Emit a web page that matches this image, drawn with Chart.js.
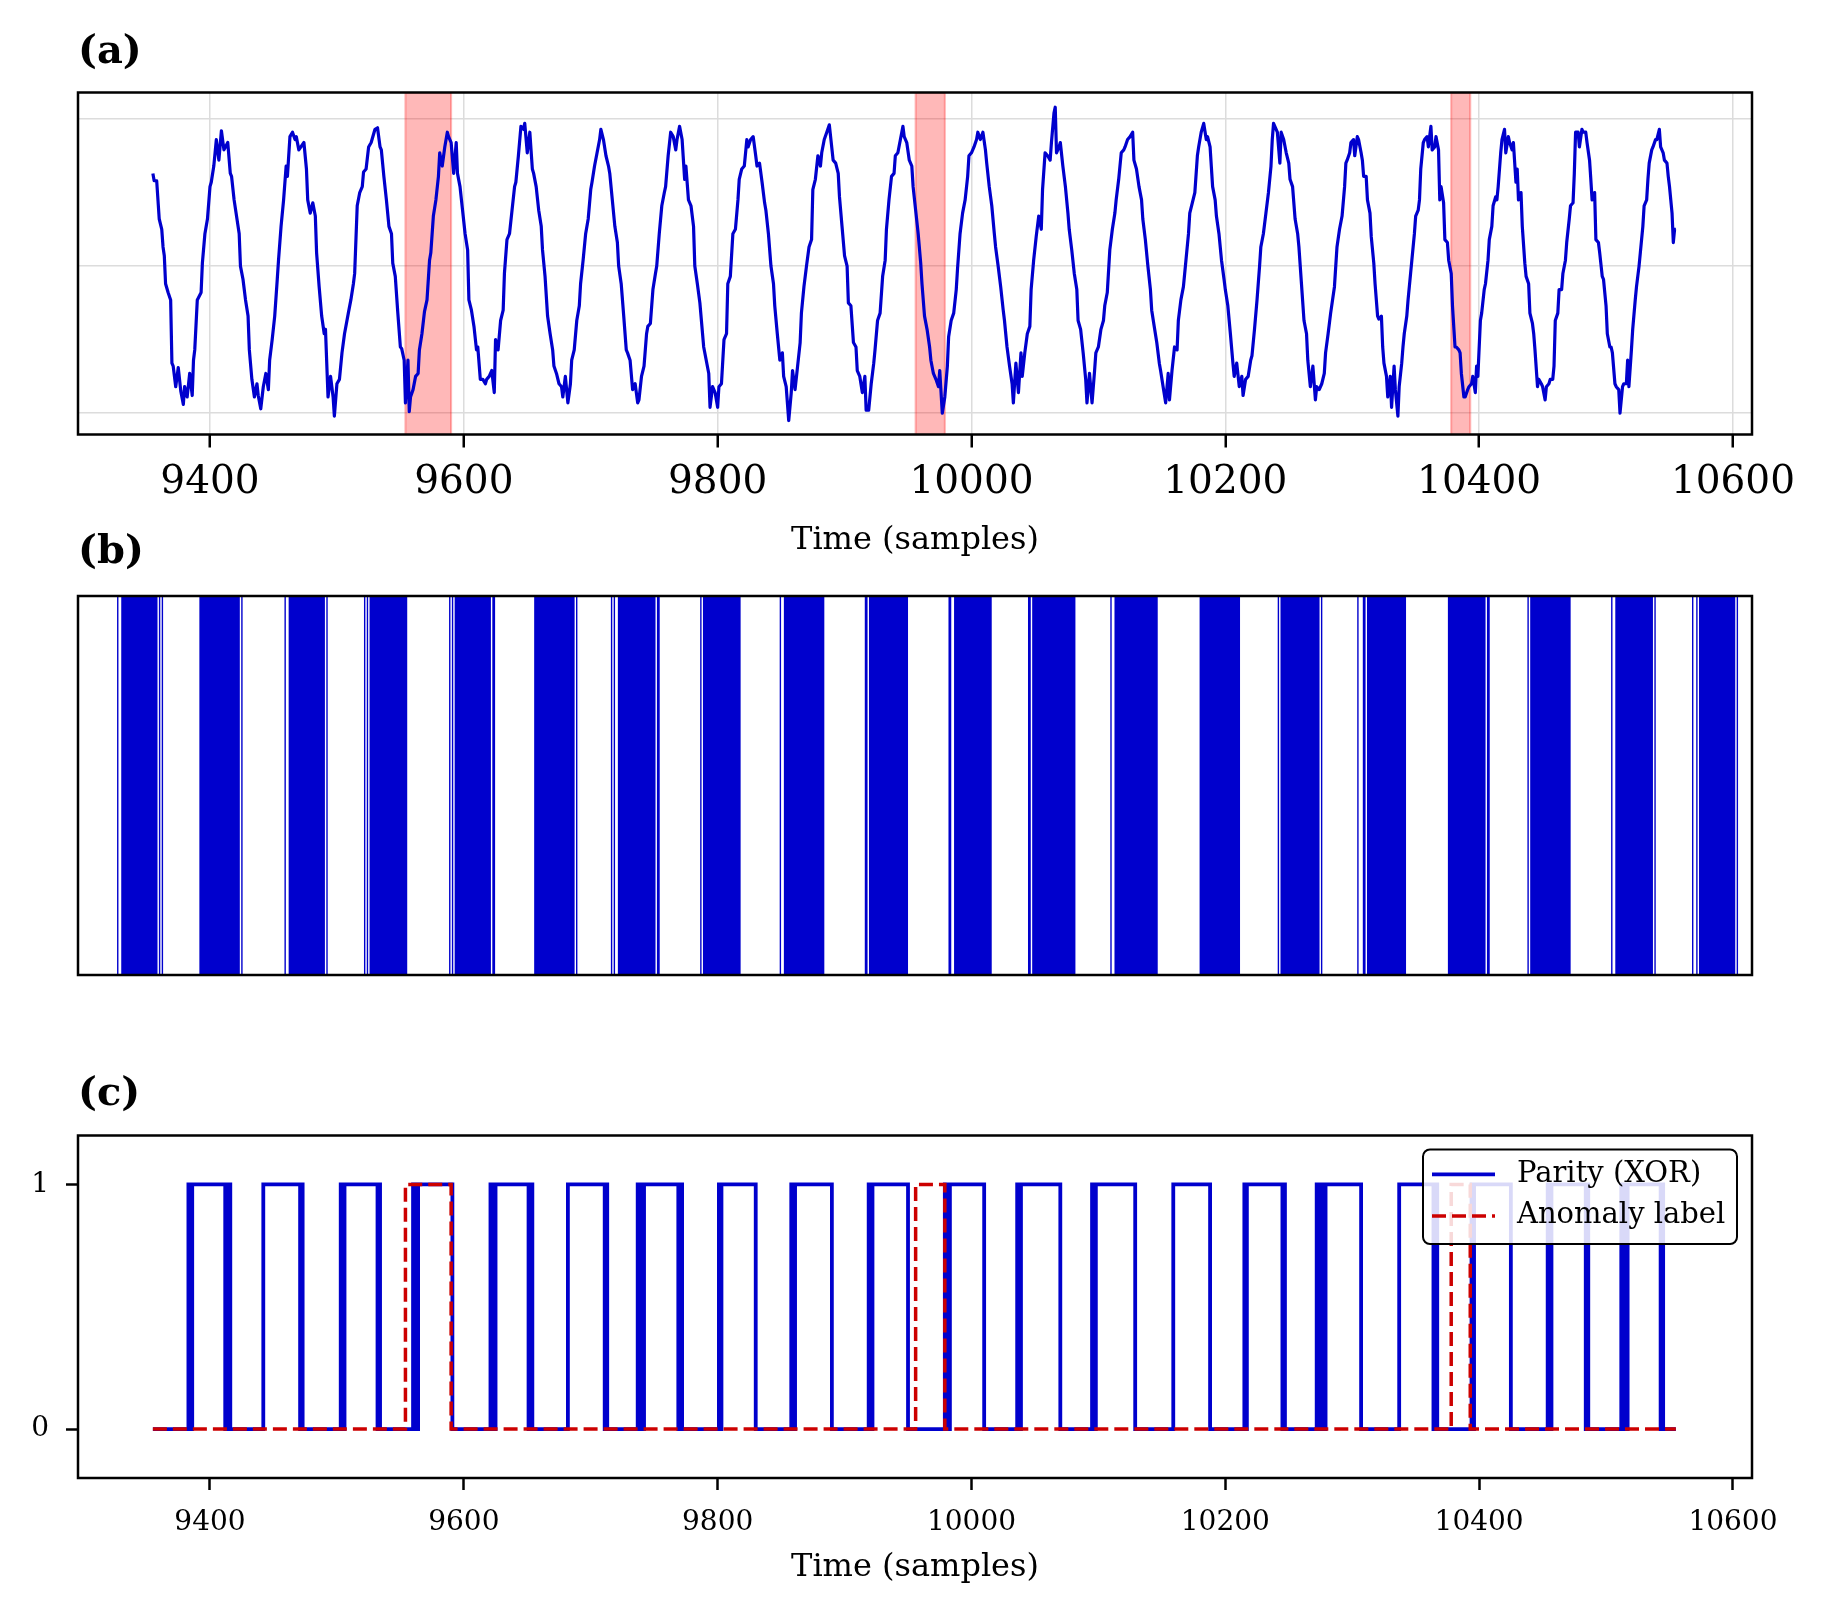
<!DOCTYPE html>
<html><head><meta charset="utf-8">
<script src="https://cdn.jsdelivr.net/npm/chart.js@4.4.0/dist/chart.umd.min.js"></script>
<style>
html,body{margin:0;padding:0;background:#fff;}
#wrap{position:relative;width:1828px;height:1615px;overflow:hidden;background:#fff;}
.panel{position:absolute;left:0;width:1828px;}
</style></head><body>
<div id="wrap">
<div class="panel" style="top:0;height:580px"><canvas id="ca"></canvas></div>
<div class="panel" style="top:505px;height:480px"><canvas id="cb"></canvas></div>
<div class="panel" style="top:1045px;height:570px"><canvas id="cc"></canvas></div>
</div>
<script>
// ---------------- data ----------------
const T_START = 9355, T_END = 10555;
const xTicks = [9400, 9600, 9800, 10000, 10200, 10400, 10600];
const gridLevelsA = [-1, 0, 1];
const yTicksC = [0, 1];
const panelTitles = ['(a)', '(b)', '(c)'];
const xLabel = 'Time (samples)';
const seriesLabels = ['Parity (XOR)', 'Anomaly label'];

// [sample, value]
const signalSamples = [
[9355,.63],[9356,.58],[9358,.58],[9360,.32],[9362,.25],[9363,.13],[9364,.07],[9365,-.12],[9367,-.18],[9369,-.23],[9370,-.66],[9371,-.68],[9373,-.82],[9375,-.69],[9377,-.85],[9379,-.94],[9380,-.82],[9382,-.89],[9384,-.73],[9386,-.88],[9387,-.64],[9388,-.57],[9390,-.23],[9393,-.18],[9394,.02],[9396,.22],[9398,.32],[9400,.54],[9401,.57],[9403,.68],[9405,.86],[9407,.72],[9409,.92],[9411,.79],[9414,.84],[9416,.63],[9417,.61],[9419,.45],[9423,.22],[9424,0],[9426,-.09],[9428,-.23],[9430,-.34],[9431,-.57],[9433,-.77],[9435,-.89],[9437,-.80],[9438,-.88],[9440,-.97],[9442,-.82],[9444,-.73],[9446,-.84],[9447,-.64],[9449,-.50],[9451,-.34],[9453,-.09],[9454,.04],[9456,.27],[9458,.45],[9460,.68],[9461,.61],[9463,.88],[9465,.91],[9467,.86],[9468,.88],[9470,.79],[9474,.84],[9476,.66],[9477,.45],[9479,.36],[9481,.43],[9483,.34],[9484,.09],[9486,-.14],[9488,-.34],[9490,-.46],[9491,-.43],[9493,-.89],[9495,-.75],[9497,-.89],[9498,-1.02],[9500,-.80],[9502,-.77],[9504,-.59],[9506,-.46],[9509,-.32],[9511,-.23],[9513,-.12],[9514,-.05],[9516,.41],[9518,.50],[9520,.54],[9521,.64],[9523,.66],[9525,.81],[9527,.84],[9530,.93],[9532,.94],[9534,.81],[9535,.79],[9537,.61],[9539,.45],[9541,.27],[9543,.22],[9544,.02],[9546,-.07],[9548,-.32],[9550,-.55],[9551,-.56],[9553,-.64],[9554,-.93],[9556,-.64],[9557,-.99],[9558,-.89],[9560,-.84],[9562,-.75],[9564,-.73],[9565,-.57],[9567,-.46],[9569,-.31],[9571,-.23],[9573,.04],[9574,.09],[9576,.34],[9578,.45],[9580,.61],[9581,.77],[9583,.68],[9585,.81],[9587,.91],[9588,.88],[9590,.84],[9592,.63],[9594,.84],[9595,.63],[9597,.54],[9599,.38],[9601,.22],[9603,.11],[9604,-.23],[9606,-.30],[9608,-.41],[9610,-.57],[9611,-.55],[9613,-.77],[9615,-.77],[9617,-.80],[9618,-.77],[9620,-.75],[9622,-.71],[9624,-.86],[9625,-.50],[9627,-.57],[9629,-.37],[9631,-.30],[9632,-.05],[9634,.18],[9636,.22],[9638,.38],[9640,.54],[9641,.57],[9643,.75],[9645,.95],[9647,.93],[9648,.97],[9650,.77],[9652,.91],[9654,.66],[9655,.63],[9657,.54],[9659,.38],[9661,.27],[9662,.11],[9664,-.07],[9666,-.34],[9668,-.46],[9670,-.57],[9671,-.68],[9673,-.73],[9675,-.80],[9677,-.82],[9678,-.89],[9680,-.75],[9682,-.93],[9684,-.80],[9685,-.64],[9687,-.57],[9689,-.37],[9691,-.27],[9692,-.12],[9694,.04],[9696,.22],[9698,.32],[9700,.52],[9701,.57],[9703,.68],[9705,.77],[9707,.86],[9708,.93],[9710,.86],[9712,.75],[9714,.68],[9715,.63],[9717,.45],[9719,.27],[9721,.16],[9722,0],[9724,-.12],[9726,-.34],[9728,-.57],[9729,-.59],[9731,-.64],[9733,-.84],[9735,-.80],[9737,-.93],[9738,-.91],[9740,-.75],[9742,-.68],[9744,-.46],[9745,-.41],[9747,-.39],[9749,-.16],[9751,-.05],[9752,0],[9754,.22],[9756,.41],[9758,.50],[9759,.54],[9761,.75],[9763,.91],[9765,.88],[9767,.79],[9768,.86],[9770,.95],[9772,.86],[9774,.59],[9775,.68],[9777,.45],[9779,.41],[9781,.27],[9782,0],[9784,-.12],
[9786,-.25],[9789,-.55],[9793,-.73],[9794,-.96],[9796,-.82],[9798,-.86],[9800,-.96],[9801,-.82],[9803,-.80],[9805,-.50],[9807,-.46],[9808,-.12],[9810,-.07],[9812,.22],[9814,.25],[9816,.45],[9817,.59],[9819,.66],[9821,.68],[9823,.86],[9824,.81],[9826,.86],[9828,.88],[9830,.75],[9831,.68],[9833,.70],[9835,.57],[9837,.43],[9838,.38],[9840,.22],[9842,0],[9844,-.12],[9845,-.27],[9847,-.46],[9849,-.64],[9851,-.59],[9852,-.75],[9854,-.82],[9856,-1.05],[9858,-.86],[9859,-.71],[9861,-.84],[9863,-.68],[9865,-.52],[9866,-.32],[9868,-.14],[9870,0],[9872,.13],[9874,.18],[9875,.52],[9877,.59],[9879,.75],[9881,.68],[9882,.77],[9884,.86],[9886,.91],[9888,.96],[9889,.88],[9891,.72],[9893,.70],[9895,.63],[9896,.47],[9898,.27],[9900,.07],[9902,0],[9903,-.25],[9905,-.27],[9907,-.52],[9909,-.55],[9910,-.71],[9912,-.75],[9914,-.86],[9916,-.75],[9917,-.98],[9919,-.98],[9921,-.80],[9923,-.66],[9924,-.57],[9926,-.37],[9928,-.32],[9930,-.07],[9932,.04],[9933,.25],[9935,.45],[9937,.61],[9939,.63],[9940,.75],[9942,.77],[9944,.86],[9946,.95],[9947,.88],[9949,.84],[9951,.72],[9953,.68],[9954,.54],[9956,.38],[9958,.22],[9960,.02],[9961,-.12],[9963,-.34],[9965,-.43],[9967,-.55],[9968,-.64],[9970,-.73],[9972,-.77],[9974,-.82],[9975,-.71],[9977,-1.00],[9979,-.89],[9981,-.68],[9982,-.48],[9984,-.37],[9986,-.32],[9988,-.16],[9989,-.02],[9991,.22],[9993,.36],[9995,.45],[9997,.61],[9998,.75],[10000,.77],[10002,.81],[10004,.86],[10005,.91],[10007,.86],[10009,.91],[10011,.79],[10012,.70],[10014,.54],[10016,.41],[10018,.22],[10019,.13],[10021,0],[10023,-.14],[10025,-.30],[10026,-.37],[10028,-.55],[10030,-.68],[10032,-.80],[10033,-.93],[10035,-.66],[10037,-.86],[10039,-.59],[10040,-.75],[10042,-.59],[10044,-.46],[10046,-.41],[10047,-.16],[10049,.04],[10051,.20],[10053,.34],[10055,.25],[10056,.52],[10058,.77],[10060,.75],[10062,.72],[10063,.84],[10065,1.04],[10066,1.08],[10067,.77],[10069,.81],[10070,.84],[10072,.68],[10074,.54],[10076,.36],[10077,.25],[10079,.11],[10081,-.05],[10083,-.16],[10084,-.37],[10086,-.43],[10088,-.59],[10090,-.77],[10091,-.93],[10093,-.73],[10095,-.93],[10097,-.71],[10098,-.59],[10100,-.55],[10102,-.43],[10104,-.37],[10105,-.27],[10107,-.18],[10109,.11],[10111,.25],[10113,.36],[10114,.45],[10116,.59],[10118,.77],[10120,.79],[10121,.81],[10123,.86],[10125,.88],[10127,.91],[10128,.72],[10130,.66],[10132,.54],[10134,.45],[10135,.32],[10137,.18],[10139,0],[10141,-.16],[10142,-.30],[10144,-.41],[10146,-.52],[10148,-.66],[10149,-.71],[10151,-.82],[10153,-.93],[10155,-.73],[10156,-.91],[10158,-.71],[10160,-.55],[10162,-.57],[10163,-.37],[10165,-.23],[10167,-.14],[10169,.04],[10171,.22],[10172,.36],[10174,.43],[10176,.50],[10178,.75],[10179,.81],[10181,.91],[10183,.97],[10185,.86],[10186,.88],[10188,.81],[10190,.54],[10192,.45],[10193,.34],[10195,.22],[10197,.04],[10199,-.09],[10200,-.16],[10202,-.27],[10204,-.46],[10206,-.66],[10207,-.75],[10209,-.66],[10211,-.82],[10213,-.75],[10214,-.88],[10216,-.77],[10218,-.75],[10220,-.64],[10221,-.61],[10223,-.43],[10225,-.23],[10227,0],[10228,.13],[10230,.22],[10232,.36],[10234,.50],[10236,.68],[10237,.86],[10238,.97],[10241,.91],[10243,.70],[10244,.91],[10246,.86],[10248,.77],[10250,.70],[10251,.59],[10253,.54],[10255,.32],[10257,.22],[10258,.13],[10260,-.12],[10262,-.37],[10264,-.46],[10265,-.64],[10267,-.82],[10269,-.68],[10271,-.91],[10272,-.82],[10274,-.84],[10276,-.80],[10278,-.73],[10279,-.59],[10281,-.46],[10283,-.32],[10286,-.14],[10288,.13],[10290,.25],[10292,.34],[10294,.54],[10295,.70],
[10296,.72],[10298,.77],[10299,.84],[10301,.86],[10302,.75],[10304,.88],[10305,.86],[10307,.77],[10308,.72],[10309,.61],[10311,.61],[10312,.45],[10314,.36],[10315,.20],[10317,.02],[10318,-.12],[10320,-.34],[10321,-.36],[10323,-.34],[10324,-.55],[10325,-.66],[10327,-.75],[10328,-.89],[10330,-.75],[10331,-.96],[10333,-.68],[10334,-.84],[10336,-1.02],[10337,-.82],[10339,-.66],[10340,-.55],[10341,-.46],[10343,-.34],[10344,-.23],[10346,-.05],[10347,.04],[10349,.22],[10350,.34],[10352,.38],[10353,.45],[10354,.66],[10356,.84],[10357,.86],[10359,.88],[10360,.81],[10362,.95],[10363,.79],[10365,.81],[10366,.88],[10368,.79],[10369,.45],[10370,.54],[10372,.43],[10373,.18],[10375,.16],[10376,.04],[10378,-.05],[10379,-.27],[10381,-.55],[10382,-.55],[10384,-.57],[10385,-.59],[10386,-.73],[10388,-.89],[10389,-.89],[10391,-.84],[10392,-.82],[10394,-.80],[10395,-.75],[10397,-.86],[10398,-.68],[10399,-.75],[10401,-.37],[10402,-.32],[10404,-.16],[10405,-.12],[10407,.04],[10408,.18],[10410,.27],[10411,.41],[10413,.47],[10414,.45],[10415,.54],[10417,.77],[10418,.86],[10420,.93],[10421,.77],[10423,.88],[10424,.84],[10426,.79],[10427,.84],[10429,.57],[10430,.66],[10431,.45],[10433,.50],[10434,.27],[10436,.02],[10437,-.07],[10439,-.12],[10440,-.32],[10442,-.39],[10443,-.46],[10444,-.57],[10446,-.82],[10447,-.77],[10449,-.80],[10450,-.82],[10452,-.91],[10453,-.82],[10455,-.80],[10456,-.77],[10458,-.77],[10459,-.68],[10460,-.37],[10462,-.32],[10463,-.16],[10465,-.16],[10466,-.05],[10468,.04],[10469,.16],[10471,.32],[10472,.41],[10474,.43],[10475,.63],[10476,.91],[10478,.91],[10479,.81],[10481,.93],[10482,.91],[10484,.91],[10485,.84],[10487,.72],[10488,.59],[10489,.45],[10491,.50],[10492,.18],[10494,.16],[10495,.09],[10497,-.07],[10498,-.09],[10500,-.27],[10501,-.46],[10503,-.55],[10504,-.55],[10505,-.59],[10507,-.80],[10508,-.82],[10510,-.84],[10511,-1.00],[10513,-.82],[10514,-.80],[10516,-.80],[10517,-.64],[10518,-.82],[10520,-.57],[10521,-.43],[10523,-.23],[10524,-.14],[10526,0],[10527,.09],[10529,.27],[10530,.41],[10532,.45],[10533,.59],[10534,.70],[10536,.79],[10537,.81],[10539,.86],[10540,.86],[10542,.93],[10543,.81],[10545,.77],[10546,.72],[10548,.70],[10549,.61],[10550,.54],[10552,.36],[10553,.16],[10554,.25],[10555,.25]
];

// parity (XOR) = 1 on [start, end)
const parityStart = [9383,9386,9413,9415,9442,9472,9503,9506,9533,9560,9562,9564,9621,9623,9625,9652,9682,9712,9737,9739,9742,9770,9801,9803,9858,9861,9919,9922,9979,9983,10036,10039,10095,10098,10159,10215,10217,10246,10272,10276,10279,10337,10365,10394,10396,10454,10457,10485,10512,10515,10517,10544];
const parityEnd   = [9384,9412,9414,9416,9471,9473,9504,9532,9534,9561,9563,9591,9622,9624,9651,9654,9711,9713,9738,9740,9769,9772,9802,9830,9859,9890,9921,9950,9981,10010,10038,10070,10096,10129,10188,10216,10245,10247,10273,10278,10307,10364,10367,10395,10425,10455,10484,10486,10513,10516,10543,10545];

// anomaly label = 1 on [start, end)
const anomalyStart = [9554, 9956, 10378];
const anomalyEnd   = [9590, 9979, 10393];

// ---------------- style ----------------
const FONT = "'DejaVu Serif', serif";
const BLUE = '#0000CD';
const RED = '#CC0000';
const X_MIN = 9296, X_MAX = 10615;
const YA_MIN = -1.145, YA_MAX = 1.18;

function stepPoints(starts, ends) {
  const pts = [{x: T_START, y: 0}];
  starts.forEach((s, i) => { pts.push({x: s, y: 1}); pts.push({x: ends[i], y: 0}); });
  pts.push({x: T_END, y: 0});
  return pts;
}

const framePlugin = {
  id: 'frame',
  afterDatasetsDraw(chart) {
    const {ctx, chartArea: a} = chart;
    ctx.save();
    ctx.strokeStyle = '#000';
    ctx.lineWidth = 2.5;
    ctx.strokeRect(a.left, a.top, a.right - a.left, a.bottom - a.top);
    ctx.restore();
  }
};

const legendPlugin = {
  id: 'boxLegend',
  afterDatasetsDraw(chart) {
    const {ctx, chartArea: a} = chart;
    const w = 314, h = 94.5;
    const x0 = a.right - 15 - w, y0 = a.top + 14;
    ctx.save();
    ctx.beginPath();
    if (ctx.roundRect) ctx.roundRect(x0, y0, w, h, 7); else ctx.rect(x0, y0, w, h);
    ctx.fillStyle = 'rgba(255,255,255,0.85)';
    ctx.fill();
    ctx.lineWidth = 2;
    ctx.strokeStyle = '#000';
    ctx.stroke();
    const items = [chart.data.datasets[1], chart.data.datasets[0]];
    items.forEach((ds, i) => {
      const yy = y0 + 24.8 + i * 41.6;
      ctx.beginPath();
      ctx.setLineDash(ds.borderDash || []);
      ctx.strokeStyle = ds.borderColor;
      ctx.lineWidth = ds.borderWidth;
      ctx.moveTo(x0 + 9, yy);
      ctx.lineTo(x0 + 72, yy);
      ctx.stroke();
      ctx.setLineDash([]);
      ctx.fillStyle = '#000';
      ctx.font = '29px ' + FONT;
      ctx.textBaseline = 'middle';
      ctx.textAlign = 'left';
      ctx.fillText(ds.label, x0 + 94, yy);
    });
    ctx.restore();
  }
};

const common = {
  responsive: true,
  maintainAspectRatio: false,
  animation: false,
  events: [],
};
function titleOpts(text, top, bottom) {
  return {display: true, fullSize: false, text, align: 'start', color: '#000',
          font: {family: FONT, size: 40, weight: 'bold'}, padding: {top, bottom}};
}

// ---------------- panel (a) ----------------
new Chart(document.getElementById('ca'), {
  type: 'line',
  data: {
    datasets: [
      {data: signalSamples.map(p => ({x: p[0], y: p[1]})), borderColor: BLUE, borderWidth: 3.2,
       pointRadius: 0, tension: 0, fill: false, borderJoinStyle: 'round'},
      ...anomalyStart.map((s, i) => ({
        data: [{x: s, y: YA_MIN}, {x: s, y: YA_MAX}, {x: anomalyEnd[i], y: YA_MAX}, {x: anomalyEnd[i], y: YA_MIN}],
        borderColor: 'rgba(255,0,0,0.3)', borderWidth: 2, backgroundColor: 'rgba(255,0,0,0.28)',
        fill: 'start', pointRadius: 0, tension: 0
      }))
    ]
  },
  options: {
    ...common,
    layout: {padding: {left: 78, right: 76, top: 0, bottom: 0}},
    plugins: {legend: {display: false}, tooltip: {enabled: false}, title: titleOpts(panelTitles[0], 28.3, 16.2)},
    scales: {
      x: {type: 'linear', min: X_MIN, max: X_MAX,
          afterBuildTicks: s => { s.ticks = xTicks.map(v => ({value: v})); },
          afterFit: s => { s.height = 145.5; },
          grid: {color: '#dcdcdc', lineWidth: 1.5, tickColor: '#000', tickWidth: 2.5, tickLength: 13},
          border: {display: false},
          ticks: {color: '#000', font: {family: FONT, size: 39}, padding: 11.5, maxRotation: 0, autoSkip: false,
                  callback: v => String(v)},
          title: {display: true, text: xLabel, color: '#000', font: {family: FONT, size: 32}, padding: {top: 0, bottom: 20.5}}},
      y: {type: 'linear', min: YA_MIN, max: YA_MAX,
          afterBuildTicks: s => { s.ticks = gridLevelsA.map(v => ({value: v})); },
          afterFit: s => { s.width = 0; },
          grid: {color: '#dcdcdc', lineWidth: 1.5, drawTicks: false},
          border: {display: false},
          ticks: {display: false}}
    }
  },
  plugins: [framePlugin]
});

// ---------------- panel (b) ----------------
new Chart(document.getElementById('cb'), {
  type: 'line',
  data: {
    datasets: [
      {data: stepPoints(parityStart, parityEnd), stepped: 'before', fill: 'origin',
       backgroundColor: BLUE, borderColor: 'rgba(0,0,0,0)', borderWidth: 0, pointRadius: 0}
    ]
  },
  options: {
    ...common,
    layout: {padding: {left: 78, right: 76, top: 0, bottom: 10}},
    plugins: {legend: {display: false}, tooltip: {enabled: false}, title: titleOpts(panelTitles[1], 23.3, 19.7)},
    scales: {
      x: {type: 'linear', display: false, min: T_START, max: T_END},
      y: {type: 'linear', display: false, min: 0, max: 1}
    }
  },
  plugins: [framePlugin]
});

// ---------------- panel (c) ----------------
new Chart(document.getElementById('cc'), {
  type: 'line',
  data: {
    datasets: [
      {label: seriesLabels[1], data: stepPoints(anomalyStart, anomalyEnd), stepped: 'before',
       borderColor: RED, borderWidth: 3.5, borderDash: [14, 6], pointRadius: 0, fill: false},
      {label: seriesLabels[0], data: stepPoints(parityStart, parityEnd), stepped: 'before',
       borderColor: BLUE, borderWidth: 3.8, pointRadius: 0, fill: false}
    ]
  },
  options: {
    ...common,
    layout: {padding: {left: 0, right: 76, top: 0, bottom: 0}},
    plugins: {legend: {display: false}, tooltip: {enabled: false}, title: titleOpts(panelTitles[2], 25.3, 17.2)},
    scales: {
      x: {type: 'linear', min: X_MIN, max: X_MAX,
          afterBuildTicks: s => { s.ticks = xTicks.map(v => ({value: v})); },
          afterFit: s => { s.height = 137; },
          grid: {drawOnChartArea: false, tickColor: '#000', tickWidth: 2.5, tickLength: 12},
          border: {display: false},
          ticks: {color: '#000', font: {family: FONT, size: 28}, padding: 15.6, maxRotation: 0, autoSkip: false,
                  callback: v => String(v)},
          title: {display: true, text: xLabel, color: '#000', font: {family: FONT, size: 32}, padding: {top: 0, bottom: 27.7}}},
      y: {type: 'linear', min: -0.2, max: 1.2,
          afterBuildTicks: s => { s.ticks = yTicksC.map(v => ({value: v})); },
          afterFit: s => { s.width = 78; },
          grid: {drawOnChartArea: false, tickColor: '#000', tickWidth: 2.5, tickLength: 12},
          border: {display: false},
          ticks: {color: '#000', font: {family: FONT, size: 28}, padding: 17, callback: v => String(v)}}
    }
  },
  plugins: [legendPlugin, framePlugin]
});
</script>
</body></html>
